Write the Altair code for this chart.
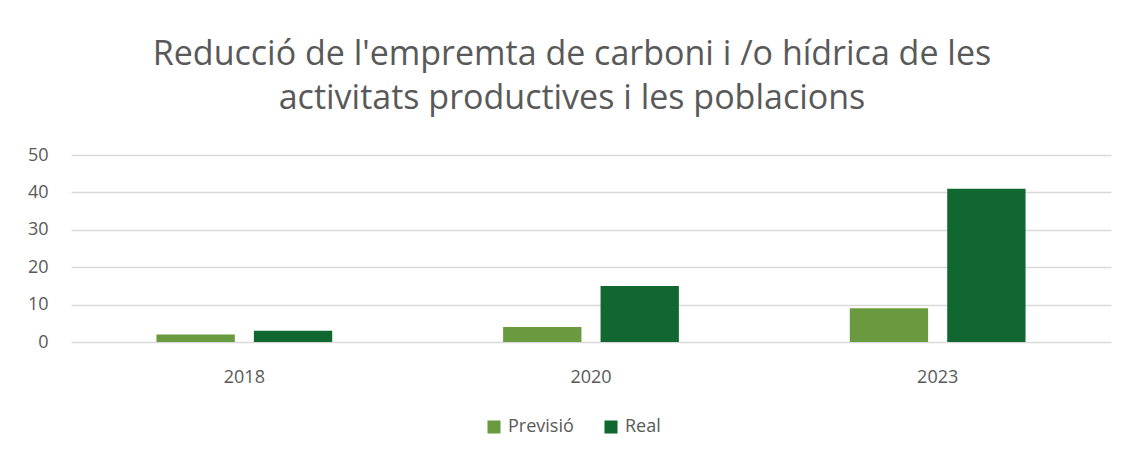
import altair as alt
import pandas as pd

years = ["2018", "2020", "2023"]
previsio = [2, 4, 9]
real = [3, 15, 41]
series = ["Previsió", "Real"]
colors = ["#6A9A3F", "#10672F"]

rows = []
for i, y in enumerate(years):
    rows.append({"year": y, "serie": "Previsió", "value": previsio[i]})
    rows.append({"year": y, "serie": "Real", "value": real[i]})
df = pd.DataFrame(rows)

grey = "#595959"
font = "Open Sans"

chart = alt.Chart(df).mark_bar().encode(
    x=alt.X("year:N", sort=years,
            scale=alt.Scale(paddingInner=0.493, paddingOuter=0.2465),
            axis=alt.Axis(title=None, labelAngle=0, ticks=False, domain=False,
                          labelPadding=26, labelFontSize=18, labelColor=grey,
                          labelFont=font, grid=False)),
    xOffset=alt.XOffset("serie:N", sort=series,
                        scale=alt.Scale(paddingInner=0.196, paddingOuter=0)),
    y=alt.Y("value:Q", scale=alt.Scale(domain=[0, 50]),
            axis=alt.Axis(title=None, values=[0, 10, 20, 30, 40, 50], ticks=False,
                          domain=False, labelPadding=23, labelFontSize=18,
                          labelColor=grey, labelFont=font, gridColor="#D9D9D9",
                          gridWidth=1.5)),
    color=alt.Color("serie:N", sort=series,
                    scale=alt.Scale(domain=series, range=colors),
                    legend=alt.Legend(title=None, orient="none", direction="horizontal",
                                      legendX=414, legendY=263, symbolType="square",
                                      symbolSize=170, symbolStrokeWidth=0,
                                      labelFontSize=18, labelColor=grey, labelFont=font,
                                      labelOffset=5, columnPadding=28)),
).properties(
    width=1040,
    height=187,
    title=alt.TitleParams(
        text=["Reducció de l'empremta de carboni i /o hídrica de les",
              "activitats productives i les poblacions"],
        fontSize=34, font=font, fontWeight="normal", color=grey,
        anchor="middle", lineHeight=44, offset=30, dx=-19),
    autosize=alt.AutoSizeParams(type="none"),
    padding={"left": 63, "top": 147, "right": 10, "bottom": 100},
).configure_view(stroke=None)

chart.save("out.html", embed_options={"renderer": "svg", "actions": False})
